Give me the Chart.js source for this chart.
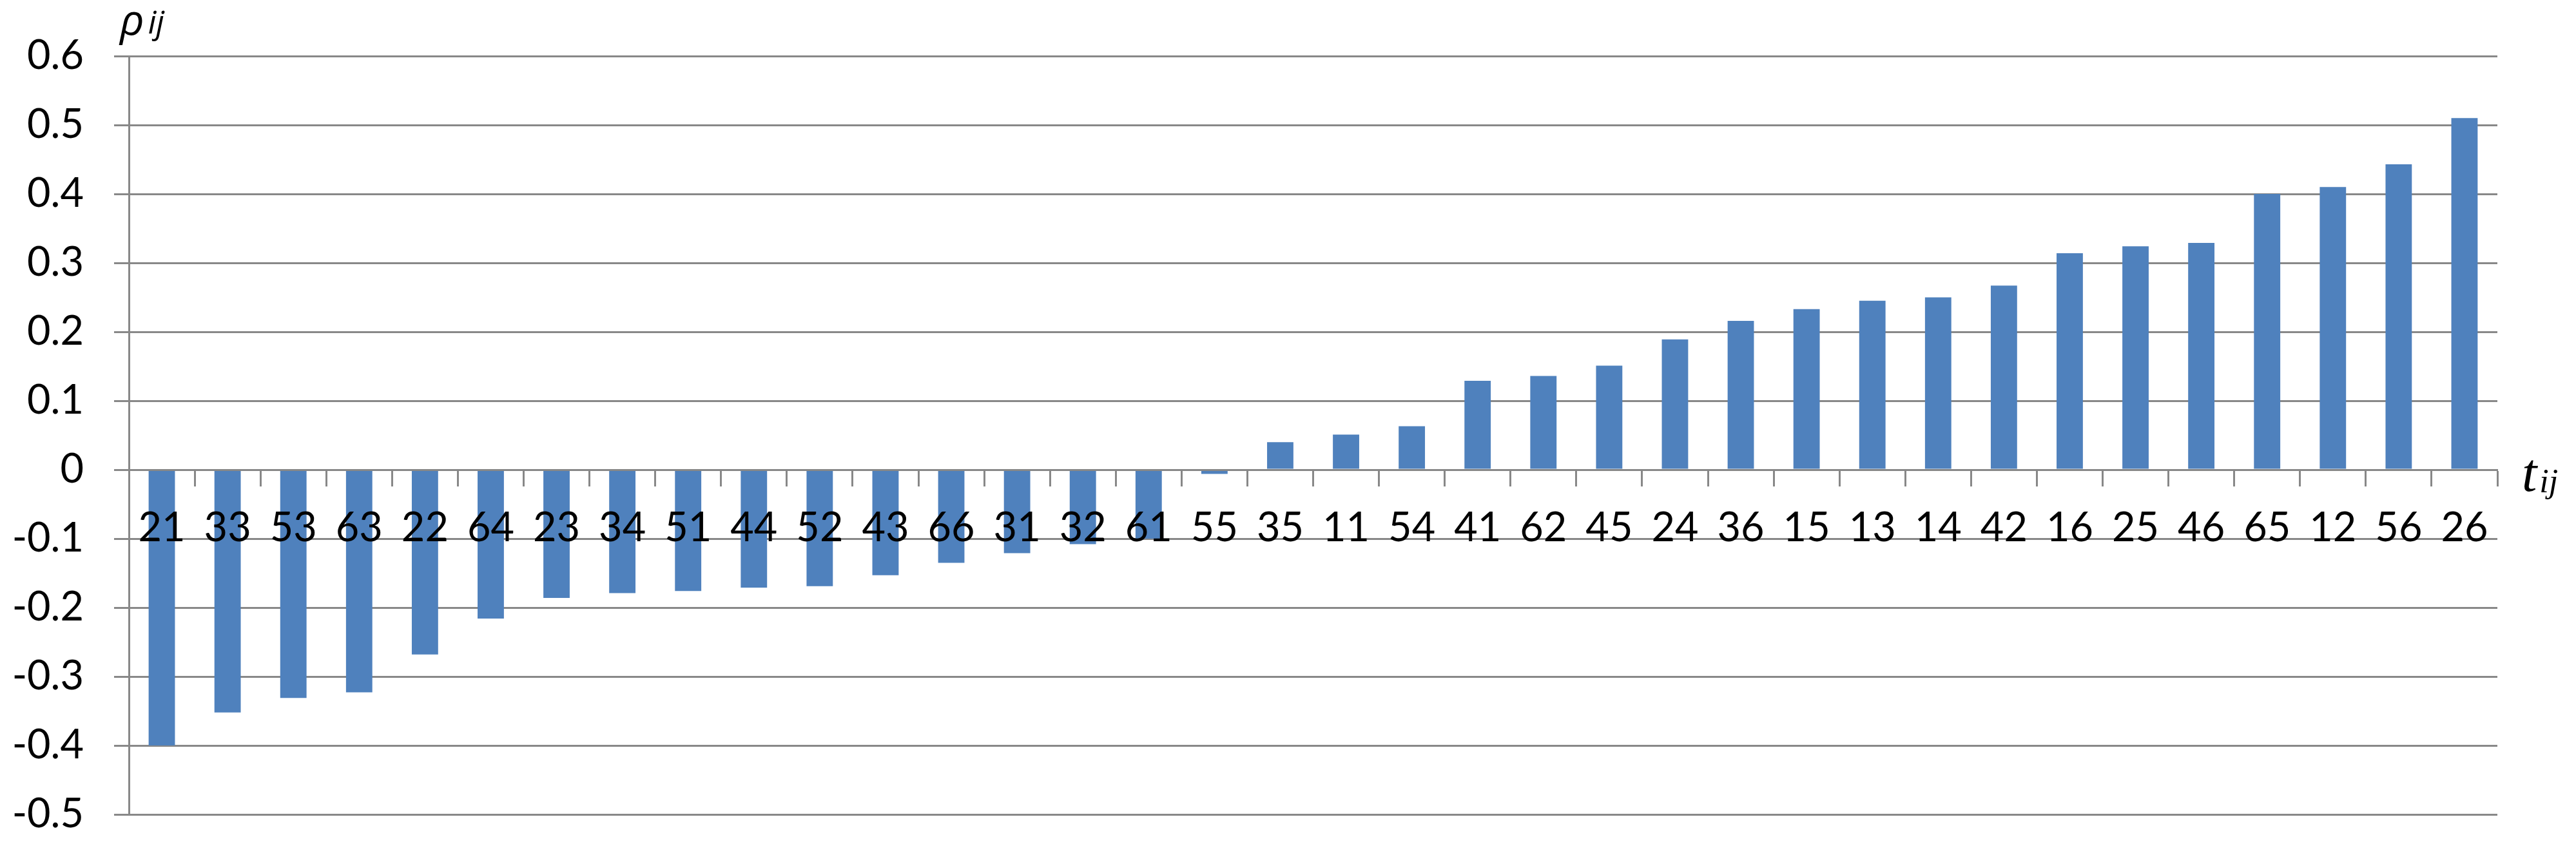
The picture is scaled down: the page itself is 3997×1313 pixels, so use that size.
<!DOCTYPE html>
<html>
<head>
<meta charset="utf-8">
<script src="https://cdn.jsdelivr.net/npm/chart.js@4.4.1/dist/chart.umd.min.js"></script>
<style>
  html, body { margin: 0; padding: 0; background: #ffffff; }
  #wrap { width: 3997px; height: 1313px; }
</style>
</head>
<body>
<div id="wrap"><canvas id="c" width="3997" height="1313"></canvas></div>
<script>
const categories = ['21','33','53','63','22','64','23','34','51','44','52','43','66','31','32','61','55','35','11','54','41','62','45','24','36','15','13','14','42','16','25','46','65','12','56','26'];
const values = [-0.400,-0.352,-0.331,-0.323,-0.268,-0.216,-0.186,-0.179,-0.176,-0.171,-0.169,-0.153,-0.135,-0.121,-0.108,-0.100,-0.006,0.040,0.051,0.063,0.129,0.136,0.151,0.189,0.216,0.233,0.245,0.250,0.267,0.314,0.324,0.329,0.400,0.410,0.443,0.510];
const yTickLabels = ['-0.5','-0.4','-0.3','-0.2','-0.1','0','0.1','0.2','0.3','0.4','0.5','0.6'];
const yAxisTitle = ['ρ', 'ij'];
const xAxisTitle = ['t', 'ij'];

const GRID = '#888888';
const BAR = '#4F81BD';

const axisTitles = {
  id: 'axisTitles',
  afterDraw(chart) {
    const ctx = chart.ctx;
    const area = chart.chartArea;
    const yZero = chart.scales.y.getPixelForValue(0);
    ctx.save();
    ctx.fillStyle = '#000000';
    ctx.textBaseline = 'alphabetic';
    ctx.textAlign = 'left';
    // y-axis title
    ctx.font = 'italic 66px "Open Sans"';
    ctx.fillText(yAxisTitle[0], area.left - 14, area.top - 33);
    const w0 = ctx.measureText(yAxisTitle[0]).width;
    ctx.font = 'italic 50px "Open Sans"';
    ctx.fillText(yAxisTitle[1], area.left - 14 + w0 + 6, area.top - 35);
    // x-axis title
    ctx.font = 'italic 84px "Liberation Serif"';
    ctx.fillText(xAxisTitle[0], area.right + 38, yZero + 33);
    const w1 = ctx.measureText(xAxisTitle[0]).width;
    ctx.font = 'italic 52px "Liberation Serif"';
    ctx.fillText(xAxisTitle[1], area.right + 38 + w1 + 4, yZero + 35);
    ctx.restore();
  }
};

new Chart(document.getElementById('c'), {
  type: 'bar',
  data: {
    labels: categories,
    datasets: [{
      data: values,
      backgroundColor: BAR,
      borderWidth: 0,
      categoryPercentage: 1.0,
      barPercentage: 0.4
    }]
  },
  options: {
    responsive: false,
    devicePixelRatio: 1,
    animation: false,
    layout: { padding: { left: 0, top: 87, right: 122, bottom: 49 } },
    plugins: {
      legend: { display: false },
      title: { display: false },
      tooltip: { enabled: false }
    },
    scales: {
      x: {
        position: { y: 0 },
        offset: true,
        grid: {
          offset: true,
          drawOnChartArea: false,
          drawTicks: true,
          tickLength: 24,
          tickWidth: 3,
          tickColor: GRID,
          z: 1
        },
        border: { display: true, color: GRID, width: 3, z: 1 },
        ticks: {
          z: 2,
          color: '#000000',
          font: { family: 'Lato', size: 63 },
          padding: 29,
          maxRotation: 0,
          minRotation: 0,
          autoSkip: false
        }
      },
      y: {
        min: -0.5,
        max: 0.6,
        afterFit(scale) { scale.width = 200; },
        grid: {
          color: GRID,
          lineWidth: 3,
          drawTicks: true,
          tickLength: 23,
          tickWidth: 3,
          tickColor: GRID
        },
        border: { display: true, color: GRID, width: 3 },
        ticks: {
          stepSize: 0.1,
          color: '#000000',
          font: { family: 'Lato', size: 63, lineHeight: 0.01 },
          padding: 47,
          callback: function(value, index) { return yTickLabels[index]; }
        }
      }
    }
  },
  plugins: [axisTitles]
});
</script>
</body>
</html>
